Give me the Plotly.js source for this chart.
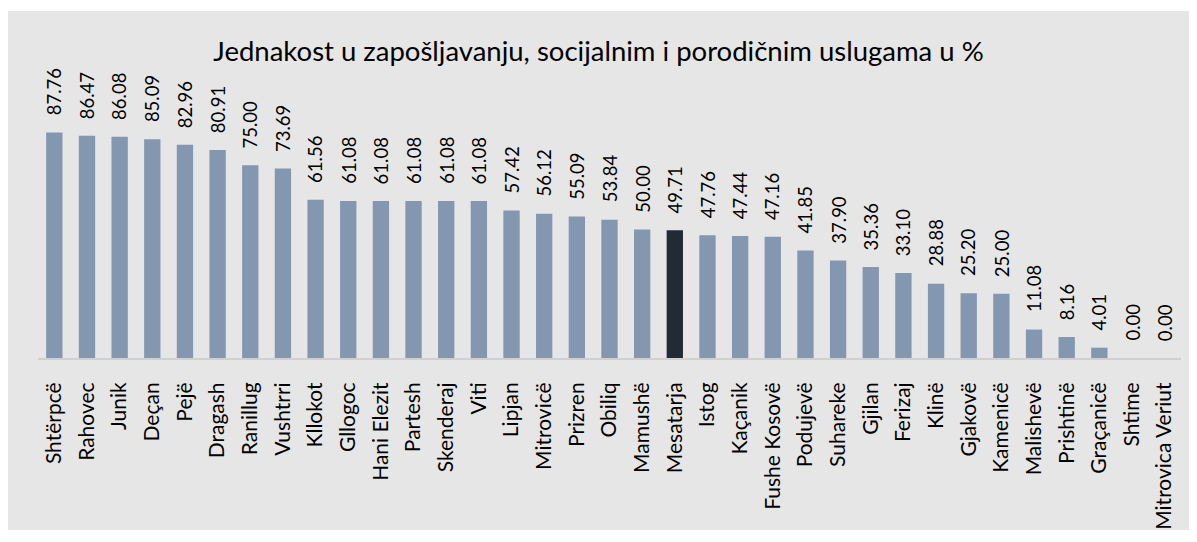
<!DOCTYPE html>
<html><head><meta charset="utf-8">
<script src="https://cdn.plot.ly/plotly-3.0.1.min.js"></script>
<style>
html,body{margin:0;padding:0;background:#ffffff;}
#chart{position:absolute;left:8px;top:11px;width:1181px;height:519px;}
</style></head>
<body><div id="chart"></div>
<script>
const categories = ["Shtërpcë","Rahovec","Junik","Deçan","Pejë","Dragash","Ranillug","Vushtrri","Kllokot","Gllogoc","Hani Elezit","Partesh","Skenderaj","Viti","Lipjan","Mitrovicë","Prizren","Obiliq","Mamushë","Mesatarja","Istog","Kaçanik","Fushe Kosovë","Podujevë","Suhareke","Gjilan","Ferizaj","Klinë","Gjakovë","Kamenicë","Malishevë","Prishtinë","Graçanicë","Shtime","Mitrovica Veriut"];
const values = [87.76,86.47,86.08,85.09,82.96,80.91,75.00,73.69,61.56,61.08,61.08,61.08,61.08,61.08,57.42,56.12,55.09,53.84,50.00,49.71,47.76,47.44,47.16,41.85,37.90,35.36,33.10,28.88,25.20,25.00,11.08,8.16,4.01,0.00,0.00];
const highlight = "Mesatarja";
const titleText = "Jednakost u zapošljavanju, socijalnim i porodičnim uslugama u %";

const FONT = "Lato, 'Open Sans', sans-serif";
const colors = categories.map(c => c === highlight ? "#222a35" : "#8497b0");

const trace = {
  type: "bar",
  x: categories,
  y: values,
  marker: {color: colors},
  hoverinfo: "x+y"
};

const annotations = categories.map((c, i) => ({
  x: c, y: values[i], xref: "x", yref: "y",
  text: values[i].toFixed(2),
  textangle: -90,
  showarrow: false,
  xanchor: "center", yanchor: "bottom",
  yshift: 15,
  font: {family: FONT, size: 18.5, color: "#000000"}
}));

const layout = {
  width: 1181, height: 519,
  paper_bgcolor: "#e7e6e6",
  plot_bgcolor: "#e7e6e6",
  margin: {l: 30, r: 8, t: 89.5, b: 172},
  bargap: 0.5,
  showlegend: false,
  title: {text: titleText, x: 0.5, xanchor: "center", y: 0.922, yanchor: "middle", yref: "container",
          font: {family: FONT, size: 27.5, color: "#000000"}},
  xaxis: {
    type: "category",
    tickangle: -90,
    showline: true, linecolor: "#d0d0d0", linewidth: 2,
    ticks: "outside", ticklen: 14, tickcolor: "rgba(0,0,0,0)",
    tickfont: {family: FONT, size: 21, color: "#000000"},
    showgrid: false, zeroline: false, fixedrange: true
  },
  yaxis: {
    range: [0, 100],
    visible: false, showgrid: false, zeroline: false, fixedrange: true
  },
  annotations: annotations
};

Plotly.newPlot("chart", [trace], layout, {displayModeBar: false, staticPlot: true});
</script></body></html>
